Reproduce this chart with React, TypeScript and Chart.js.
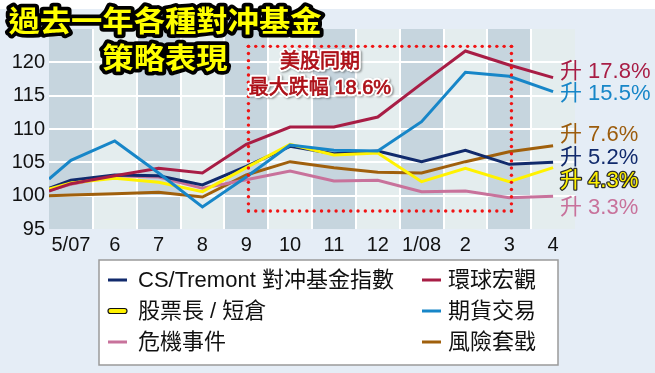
import React, { useEffect, useRef } from 'react';
import { Chart, registerables } from 'chart.js';

Chart.register(...registerables);

// ---- data ----
const months = ['5/07', '6', '7', '8', '9', '10', '11', '12', '1/08', '2', '3', '4'];
const yTickValues = [95, 100, 105, 110, 115, 120, 125];

// first value of each series = starting level (left edge, before 5/07)
const csTremont = [101.1, 102.3, 103.1, 103.0, 101.6, 104.4, 107.4, 106.3, 106.7, 105.1, 106.8, 104.7, 105.0];
const globalMacro = [100.7, 101.8, 103.0, 104.1, 103.4, 107.7, 110.3, 110.3, 111.8, 116.8, 121.7, 119.6, 117.7];
const longShort = [101.0, 101.9, 102.6, 102.0, 100.6, 104.2, 107.7, 106.1, 106.4, 102.1, 104.1, 102.1, 104.2];
const managedFutures = [102.5, 105.3, 108.2, 103.4, 98.3, 102.8, 107.6, 106.8, 106.7, 111.1, 118.5, 117.9, 115.6];
const eventDriven = [100.8, 101.7, 103.0, 102.8, 101.1, 102.4, 103.7, 102.2, 102.3, 100.6, 100.7, 99.7, 99.9];
const convertibleArb = [100.0, 100.1, 100.3, 100.5, 99.8, 103.1, 105.1, 104.2, 103.5, 103.4, 105.1, 106.6, 107.5];

const seriesNames = ['CS/Tremont 對冲基金指數', '環球宏觀', '股票長 / 短倉', '期貨交易', '危機事件', '風險套戥'];
const gainTexts = ['升 17.8%', '升 15.5%', '升 7.6%', '升 5.2%', '升 4.3%', '升 3.3%'];
const titleLines = ['過去一年各種對冲基金', '策略表現'];
const noteLines = ['美股同期', '最大跌幅 18.6%'];

// ---- styles ----
const C_NAVY = '#112a6c';
const C_CRIMSON = '#a81d45';
const C_YELLOW = '#fff200';
const C_BLUE = '#1786c8';
const C_PINK = '#c8729b';
const C_BROWN = '#a0600c';

const FONT = '"Liberation Sans", Arial, "Noto Sans CJK TC", sans-serif';

const toPoints = (vals: number[]) => vals.map((v, i) => ({ x: i === 0 ? -0.5 : i - 1, y: v }));

const decorPlugin = {
  id: 'decor',
  beforeDraw(chart: any) {
    const { ctx, chartArea, scales } = chart;
    const xs = scales.x;
    ctx.save();
    ctx.fillStyle = '#ffffff';
    ctx.fillRect(0, 0, chart.width, chart.height);
    ctx.fillStyle = '#e5edf6';
    ctx.fillRect(0, 9, chart.width, chart.height - 9);
    months.forEach((_, i) => {
      const l = xs.getPixelForValue(i - 0.5);
      const r = xs.getPixelForValue(i + 0.5);
      ctx.fillStyle = i % 2 === 0 ? '#c6d5de' : '#e4edee';
      ctx.fillRect(l, chartArea.top, r - l, chartArea.bottom - chartArea.top);
    });
    ctx.restore();
  },
  afterDatasetsDraw(chart: any) {
    const { ctx, scales } = chart;
    const xs = scales.x;
    const ys = scales.y;
    ctx.save();
    // red dotted box
    const bl = xs.getPixelForValue(4.05);
    const br = xs.getPixelForValue(10.05);
    const bt = ys.getPixelForValue(122.4);
    const bb = ys.getPixelForValue(97.7);
    ctx.fillStyle = '#f01414';
    const dot = (x: number, y: number) => {
      ctx.beginPath();
      ctx.arc(x, y, 1.7, 0, Math.PI * 2);
      ctx.fill();
    };
    const step = 7.3;
    const nx = Math.round((br - bl) / step);
    const ny = Math.round((bb - bt) / step);
    for (let i = 0; i <= nx; i++) {
      const x = bl + ((br - bl) * i) / nx;
      dot(x, bt);
      dot(x, bb);
    }
    for (let j = 0; j <= ny; j++) {
      const y = bt + ((bb - bt) * j) / ny;
      dot(bl, y);
      dot(br, y);
    }
    // note text
    ctx.font = `20px ${FONT}`;
    ctx.textAlign = 'center';
    ctx.textBaseline = 'middle';
    const noteX = 320;
    const noteYs = [62, 88];
    noteLines.forEach((t, i) => {
      ctx.save();
      ctx.shadowColor = 'rgba(0,0,0,0.35)';
      ctx.shadowOffsetX = 1.5;
      ctx.shadowOffsetY = 1.5;
      ctx.shadowBlur = 2;
      ctx.lineJoin = 'round';
      ctx.lineWidth = 4.5;
      ctx.strokeStyle = '#ffffff';
      ctx.strokeText(t, noteX, noteYs[i]);
      ctx.restore();
      ctx.fillStyle = '#ad1018';
      ctx.fillText(t, noteX, noteYs[i]);
      ctx.lineWidth = 0.7;
      ctx.strokeStyle = '#ad1018';
      ctx.strokeText(t, noteX, noteYs[i]);
    });
    // gain labels on the right
    const gainColors = [C_CRIMSON, C_BLUE, '#9c5c0c', C_NAVY, C_YELLOW, C_PINK];
    const gainYs = [72, 94, 135, 158, 181, 208];
    ctx.font = `22px ${FONT}`;
    ctx.textAlign = 'left';
    gainTexts.forEach((t, i) => {
      if (i === 4) {
        ctx.lineJoin = 'round';
        ctx.lineWidth = 2.5;
        ctx.strokeStyle = '#2a2a2a';
        ctx.strokeText(t, 560, gainYs[i]);
      }
      ctx.fillStyle = gainColors[i];
      ctx.fillText(t, 560, gainYs[i]);
    });
    ctx.restore();
  },
  afterDraw(chart: any) {
    const { ctx } = chart;
    ctx.save();
    // legend box
    ctx.fillStyle = '#ffffff';
    ctx.fillRect(99, 260, 459, 105);
    ctx.strokeStyle = '#9a9a9a';
    ctx.lineWidth = 1.5;
    ctx.strokeRect(99, 260, 459, 105);
    const order = [0, 2, 4, 1, 3, 5];
    const rowYs = [280, 311, 342];
    ctx.font = `22px ${FONT}`;
    ctx.textAlign = 'left';
    ctx.textBaseline = 'middle';
    order.forEach((dsIndex, k) => {
      const ds = chart.data.datasets[dsIndex];
      const col = Math.floor(k / 3);
      const row = k % 3;
      const mx = col === 0 ? 108 : 422;
      const tx = col === 0 ? 138 : 448;
      const y = rowYs[row];
      if (ds.borderColor === C_YELLOW) {
        ctx.beginPath();
        ctx.roundRect(mx, y - 2.5, 19, 5, 2.5);
        ctx.fillStyle = C_YELLOW;
        ctx.fill();
        ctx.lineWidth = 1.2;
        ctx.strokeStyle = '#111';
        ctx.stroke();
      } else {
        ctx.fillStyle = ds.borderColor;
        ctx.fillRect(mx, y - 1.5, 19, 3);
      }
      ctx.fillStyle = '#111111';
      ctx.fillText(ds.label, tx, y + 1);
    });
    // title
    ctx.font = 'bold 29px "Noto Sans CJK TC", sans-serif';
    ctx.textAlign = 'center';
    ctx.textBaseline = 'middle';
    ctx.lineJoin = 'round';
    const titleYs = [21, 58];
    titleLines.forEach((t, i) => {
      ctx.save();
      ctx.translate(165, titleYs[i]);
      ctx.scale(1.08, 1);
      ctx.lineWidth = 7.5;
      ctx.strokeStyle = '#000000';
      ctx.strokeText(t, 0, 0);
      ctx.fillStyle = '#ffff00';
      ctx.fillText(t, 0, 0);
      ctx.restore();
    });
    ctx.restore();
  },
};

export default function App() {
  const ref = useRef<HTMLCanvasElement | null>(null);
  useEffect(() => {
    if (!ref.current) return;
    const mk = (label: string, vals: number[], color: string, order: number) => ({
      label,
      data: toPoints(vals),
      borderColor: color,
      backgroundColor: color,
      borderWidth: 3,
      pointRadius: 0,
      tension: 0,
      fill: false,
      order,
    });
    const chart = new Chart(ref.current, {
      type: 'line',
      data: {
        datasets: [
          mk(seriesNames[0], csTremont, C_NAVY, 3),
          mk(seriesNames[1], globalMacro, C_CRIMSON, 1),
          mk(seriesNames[2], longShort, C_YELLOW, 2),
          mk(seriesNames[3], managedFutures, C_BLUE, 0),
          mk(seriesNames[4], eventDriven, C_PINK, 4),
          mk(seriesNames[5], convertibleArb, C_BROWN, 5),
        ],
      },
      options: {
        responsive: false,
        animation: false,
        devicePixelRatio: 1,
        layout: { padding: { top: 29, right: 80, bottom: 114, left: 0 } },
        plugins: { legend: { display: false }, tooltip: { enabled: false } },
        scales: {
          x: {
            type: 'linear',
            min: -0.5,
            max: 11.5,
            afterBuildTicks: (s: any) => {
              s.ticks = months.map((_, i) => ({ value: i }));
            },
            afterFit: (s: any) => {
              s.height = 30;
            },
            ticks: {
              autoSkip: false,
              maxRotation: 0,
              padding: 4,
              color: '#111111',
              font: { family: FONT, size: 20 },
              callback: (v: any) => months[Math.round(Number(v))],
            },
            grid: {
              offset: true,
              drawTicks: false,
              lineWidth: 2,
              color: (c: any) => (c.index === undefined || c.index === 0 ? 'rgba(0,0,0,0)' : '#ffffff'),
            },
            border: { display: false },
          },
          y: {
            min: 95,
            max: 125,
            afterBuildTicks: (s: any) => {
              s.ticks = yTickValues.map((v) => ({ value: v }));
            },
            afterFit: (s: any) => {
              s.width = 49;
            },
            ticks: {
              padding: 4,
              color: '#111111',
              font: { family: FONT, size: 20 },
              callback: (v: any) => (Number(v) === 125 ? '' : String(v)),
            },
            grid: {
              drawTicks: false,
              lineWidth: 2,
              color: (c: any) =>
                c.tick && (c.tick.value === 95 || c.tick.value === 125) ? 'rgba(0,0,0,0)' : '#ffffff',
            },
            border: { display: false },
          },
        },
      },
      plugins: [decorPlugin],
    } as any);
    return () => chart.destroy();
  }, []);
  return (
    <div style={{ position: 'absolute', left: 0, top: 0, width: 655, height: 373 }}>
      <canvas ref={ref} width={655} height={373} style={{ display: 'block', width: 655, height: 373 }} />
    </div>
  );
}
